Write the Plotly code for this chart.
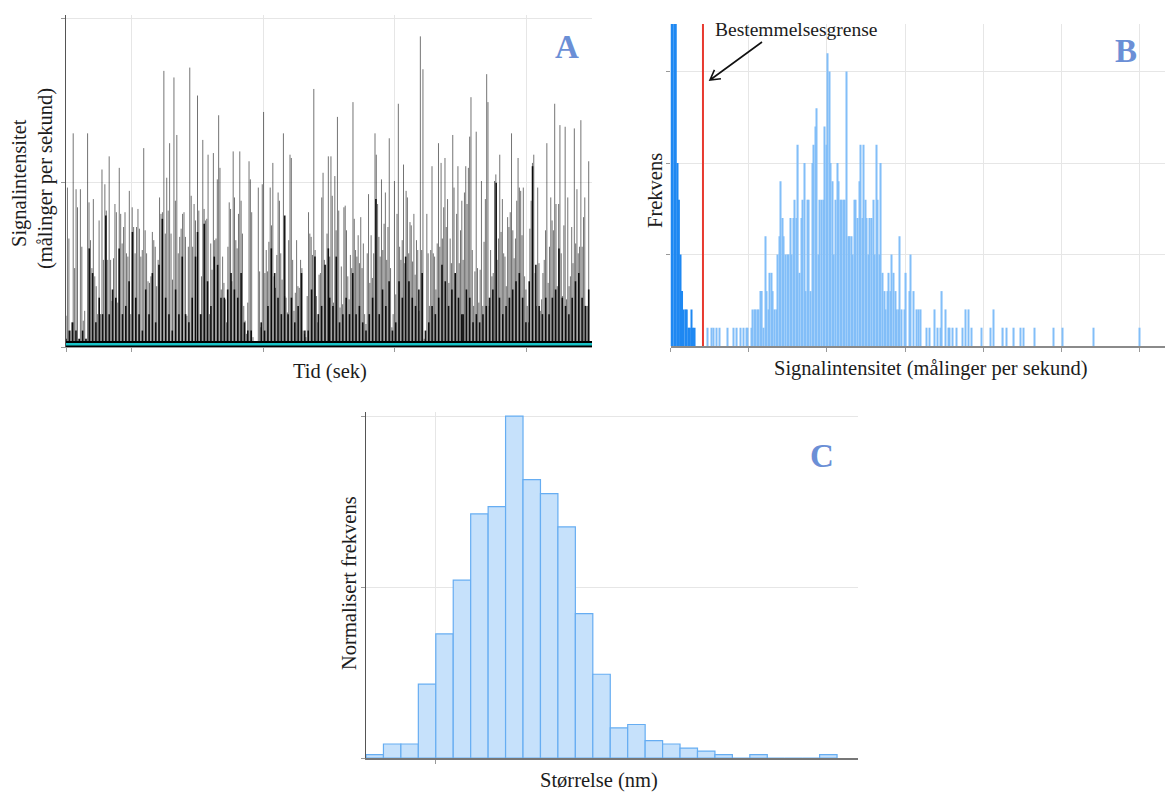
import numpy as np
import plotly.graph_objects as go

# ---------------- data ----------------
# A: single-particle time scan, spike intensities in four 20 s blocks
a_block_start = [0.0, 20.0, 40.1, 60.4]
a_block_end = [19.7, 39.9, 60.2, 79.5]
a_block1 = [0.19, 0.97, 0.66, 0.10, 0.15, 1.30, 0.48, 0.96, 0.85, 0.05,
            0.96, 0.61, 0.16, 0.22, 0.05, 1.30, 0.88, 0.65, 0.48, 0.90,
            0.43, 0.37, 0.20, 0.77, 0.20, 1.08, 0.53, 0.99, 0.83, 0.53,
            1.16, 0.53, 0.28, 0.54, 0.87, 0.82, 0.27, 1.09, 0.81, 0.63,
            0.73, 0.82, 0.57, 0.55, 0.95, 0.20, 0.85, 0.73, 0.57, 0.73,
            0.84, 0.72, 0.55, 0.59, 1.21, 0.71, 0.57, 0.40, 0.39, 0.43,
            0.70, 0.65, 0.61, 0.37, 0.53, 0.91, 0.81, 0.82, 1.68, 0.69,
            1.03, 0.83, 1.24, 0.69, 0.41, 1.64, 0.89, 1.29, 0.57, 0.67,
            0.72, 0.81, 0.82, 0.67, 0.19, 0.61, 1.70, 0.92, 0.61, 0.87, 0.77]
a_block2 = [1.53, 0.83, 0.20, 0.43, 1.26, 0.84, 0.77, 0.78, 1.17, 0.20,
            0.63, 0.47, 1.18, 0.65, 0.66, 1.02, 1.41, 1.09, 0.35, 0.55,
            0.39, 0.29, 0.15, 0.61, 0.88, 0.84, 0.40, 1.19, 0.91, 0.65,
            0.60, 0.81, 1.19, 0.89, 0.69, 0.25, 0.16, 0.08, 0.27, 1.13,
            1.02, 0.82, 0.06, 0.00, 0.00, 0.00, 0.97, 0.46, 0.12, 0.99,
            1.43, 0.45, 0.59, 0.46, 0.64, 0.97, 0.74, 1.12, 0.43, 0.36,
            0.56, 0.94, 0.89, 0.57, 0.41, 1.30, 0.31, 0.30, 0.21, 0.65,
            1.17, 1.15, 0.53, 0.22, 0.33, 0.65, 0.37, 0.36, 0.53, 0.48,
            0.10, 0.08, 0.06, 0.31, 0.82, 0.69, 0.67, 0.56, 1.57, 0.59,
            0.31, 0.15, 0.44, 0.45, 0.91, 1.06, 0.53, 0.50, 0.69, 1.16]
a_block3 = [0.55, 1.16, 0.92, 0.27, 1.04, 0.71, 1.40, 0.83, 0.24, 0.49,
            0.26, 0.85, 0.86, 0.71, 0.43, 0.29, 0.56, 0.48, 1.49, 0.78,
            0.59, 0.55, 0.68, 0.51, 0.79, 0.48, 0.63, 0.20, 0.14, 0.57,
            0.93, 0.39, 0.68, 0.42, 0.57, 1.30, 1.17, 0.87, 0.67, 0.55,
            1.02, 0.59, 0.75, 0.94, 0.53, 0.73, 1.27, 0.48, 0.12, 0.20,
            1.01, 0.32, 0.81, 1.48, 0.61, 0.53, 0.65, 1.11, 0.51, 0.95,
            0.91, 0.57, 0.76, 0.74, 0.52, 0.81, 0.44, 0.65, 0.59, 0.22,
            1.89, 0.59, 1.69, 0.05, 0.04, 0.81, 0.57, 0.25, 0.59, 1.10,
            0.57, 0.55, 0.35, 0.63, 1.24, 0.61, 1.12, 0.66, 0.85, 1.15,
            0.73, 0.90, 0.39, 0.66, 0.51, 1.29, 0.97, 0.45, 0.81, 1.10,
            0.51, 0.71, 0.89]
a_block4 = [0.53, 0.94, 1.10, 0.87, 1.09, 1.28, 1.52, 0.59, 0.25, 0.46,
            1.31, 0.48, 0.27, 0.47, 1.01, 0.25, 0.64, 0.90, 1.66, 1.49,
            0.25, 0.59, 0.43, 0.45, 1.01, 1.05, 0.53, 0.66, 1.17, 0.70,
            0.90, 0.57, 0.55, 0.37, 0.79, 0.73, 0.82, 1.30, 0.71, 0.54,
            0.66, 0.89, 1.15, 0.97, 0.95, 0.68, 0.97, 0.43, 0.35, 0.25,
            0.15, 0.72, 0.89, 1.12, 1.17, 0.45, 0.25, 0.97, 0.51, 0.22,
            0.29, 0.45, 0.53, 0.71, 1.24, 0.39, 0.61, 0.91, 0.77, 0.71,
            1.48, 0.87, 0.37, 0.87, 1.35, 0.57, 0.31, 0.74, 1.34, 0.29,
            0.91, 0.37, 0.43, 0.73, 0.51, 1.33, 0.63, 0.96, 0.57, 0.61,
            1.38, 0.61, 0.79, 0.91, 0.25, 0.25, 1.13]
# overlapping (unresolved) events: height of the dense lower mass per block
a_dense1 = [0.05, 0.10, 0.15, 0.10, 0.05, 0.10, 0.05, 0.60, 0.45, 0.15,
            0.30, 0.20, 0.80, 0.20, 0.35, 0.30, 0.60, 0.20, 0.25, 0.40,
            0.70, 0.30, 0.20, 0.10, 0.35, 0.20, 0.45, 0.15, 0.50, 0.78,
            0.30, 0.20, 0.10, 0.35, 0.20, 0.55, 0.20, 0.15, 0.30, 0.55]
a_dense2 = [0.70, 0.20, 0.75, 0.40, 0.25, 0.55, 0.50, 0.30, 0.30, 0.35,
            0.45, 0.35, 0.30, 0.45, 0.15, 0.10, 0.10, 0.00, 0.00, 0.15,
            0.10, 0.25, 0.60, 0.45, 0.30, 0.20, 0.80, 0.20, 0.30, 0.15,
            0.25, 0.45, 0.10, 0.10, 0.35, 0.55, 0.20, 0.25, 0.50, 0.60]
a_dense3 = [0.30, 0.25, 0.55, 0.15, 0.20, 0.30, 0.20, 0.45, 0.20, 0.25,
            0.15, 0.10, 0.20, 0.30, 0.90, 0.20, 0.35, 0.25, 0.40, 0.10,
            0.15, 0.40, 0.30, 0.55, 0.40, 0.30, 0.25, 0.35, 0.45, 0.10,
            0.15, 0.25, 0.20, 0.30, 0.50, 0.40, 0.25, 0.35, 0.45, 0.30, 0.20]
a_dense4 = [0.20, 0.35, 0.30, 0.15, 0.20, 0.15, 0.20, 0.25, 0.30, 0.35,
            1.00, 0.30, 0.20, 0.25, 0.30, 0.35, 0.40, 0.45, 0.30, 0.15,
            0.40, 1.10, 0.50, 0.25, 0.20, 0.30, 0.20, 0.30, 0.35, 0.60,
            0.30, 0.25, 0.20, 0.30, 0.40, 0.45, 0.30, 0.25, 0.35]
a_background = 0.036      # dense ionic background band
a_baseline = 0.016        # smoothed baseline (cyan)
a_time_range = [0, 80]
a_intensity_range = [0, 2.02]

# B: intensity histogram (counts per bin), bin width 0.02
b_bin = 0.02
b_dissolved_x = [0.01, 0.03, 0.05, 0.07, 0.09, 0.11, 0.13, 0.15, 0.17,
                 0.19, 0.21, 0.23, 0.25, 0.27, 0.29, 0.31]
b_dissolved_n = [140, 95, 60, 32, 10, 8, 5, 3, 2, 2, 2, 1, 1, 2, 1, 1]
b_low_x = [0.47, 0.53, 0.55, 0.59, 0.63, 0.73, 0.81, 0.85]
b_low_n = [1, 1, 1, 1, 1, 1, 1, 1]
b_peak_start = 0.89
b_peak_n = [1, 0, 1, 0, 1, 1, 0, 1, 2, 2, 2, 2, 2, 3, 3, 1, 6, 3, 2, 4,
            4, 3, 2, 2, 5, 6, 9, 7, 6, 5, 5, 5, 7, 5, 7, 8, 7, 11, 4, 7,
            8, 10, 3, 8, 8, 3, 10, 11, 12, 13, 5, 8, 8, 8, 12, 11, 16, 15, 10, 9,
            5, 8, 10, 9, 8, 8, 8, 8, 15, 6, 6, 6, 5, 8, 8, 7, 9, 11, 7, 11,
            8, 7, 5, 7, 7, 8, 5, 11, 8, 5, 10, 4, 3, 2, 3, 4, 3, 5, 4, 3,
            2, 2, 6]
b_tail_x = [2.95, 2.99, 3.01, 3.05, 3.07, 3.11, 3.15, 3.17, 3.19, 3.27,
            3.31, 3.37, 3.41, 3.45, 3.47, 3.51, 3.55, 3.57, 3.61, 3.65,
            3.73, 3.77, 3.81, 3.85, 3.97, 4.09, 4.13, 4.25, 4.29, 4.39,
            4.47, 4.51, 4.65, 4.89, 5.01, 5.41, 5.99]
b_tail_n = [2, 2, 4, 3, 5, 3, 2, 2, 2, 1,
            1, 2, 1, 1, 3, 2, 1, 1, 1, 1,
            1, 2, 2, 1, 1, 1, 2, 1, 1, 1,
            1, 1, 1, 1, 1, 1, 1]
b_limit = 0.415           # limit of quantification
b_x_range = [0, 6.32]
b_y_range = [0, 17.6]

# C: particle size distribution, normalised
c_start = 10
c_width = 5
c_freq = [0.010, 0.041, 0.041, 0.216, 0.363, 0.520, 0.714, 0.735, 1.000, 0.814,
          0.773, 0.676, 0.422, 0.245, 0.088, 0.098, 0.051, 0.041, 0.029, 0.020,
          0.010, 0.0, 0.010, 0.0, 0.0, 0.0, 0.010]
c_x_range = [10, 151]
c_y_range = [0, 1.012]

# ---------------- layout helpers ----------------
W, H = 1165, 792
SERIF = "Liberation Serif, Times New Roman, serif"
TXT = "#1c1c1c"
LETTER = "#6b8fd6"
GRID = "#e6e6e6"
TITLE_SIZE = 20.5


def dom_x(a, b):
    return [a / W, b / W]


def dom_y(top, bottom):
    return [1 - bottom / H, 1 - top / H]


def px(x):
    return x / W


def py(y):
    return 1 - y / H


def spikes(blocks):
    xs, ys = [], []
    for s, e, blk in zip(a_block_start, a_block_end, blocks):
        t = np.linspace(s, e, len(blk))
        for ti, v in zip(t, blk):
            xs += [ti, ti, None]
            ys += [0, v, None]
    return xs, ys


fig = go.Figure()

# ---------------- panel A ----------------
sx, sy = spikes([a_block1, a_block2, a_block3, a_block4])
fig.add_trace(go.Scatter(x=sx, y=sy, mode="lines", xaxis="x", yaxis="y",
                         line=dict(color="rgba(0,0,0,0.55)", width=1),
                         hoverinfo="skip", showlegend=False))
dx, dy = spikes([a_dense1, a_dense2, a_dense3, a_dense4])
fig.add_trace(go.Scatter(x=dx, y=dy, mode="lines", xaxis="x", yaxis="y",
                         line=dict(color="rgba(0,0,0,0.9)", width=1.6),
                         hoverinfo="skip", showlegend=False))
fig.add_trace(go.Scatter(x=a_time_range, y=[a_background, a_background], mode="lines",
                         fill="tozeroy", fillcolor="#000000", line=dict(color="#000000", width=0),
                         xaxis="x", yaxis="y", hoverinfo="skip", showlegend=False))
fig.add_trace(go.Scatter(x=a_time_range, y=[a_baseline, a_baseline], mode="lines",
                         line=dict(color="#19c4c8", width=2.5),
                         xaxis="x", yaxis="y", hoverinfo="skip", showlegend=False))

# ---------------- panel B ----------------
fig.add_trace(go.Bar(x=b_dissolved_x, y=b_dissolved_n, width=b_bin,
                     marker=dict(color="#1e88f2", line=dict(width=0)),
                     xaxis="x2", yaxis="y2", hoverinfo="skip", showlegend=False))
peak_x = [round(b_peak_start + b_bin * i, 3) for i in range(len(b_peak_n))]
part_x = b_low_x + peak_x + b_tail_x
part_n = b_low_n + b_peak_n + b_tail_n
fig.add_trace(go.Bar(x=part_x, y=part_n, width=b_bin * 0.72,
                     marker=dict(color="#82bef8", line=dict(width=0)),
                     xaxis="x2", yaxis="y2", hoverinfo="skip", showlegend=False))
fig.add_trace(go.Scatter(x=[b_limit, b_limit], y=b_y_range, mode="lines",
                         line=dict(color="#e8392f", width=2),
                         xaxis="x2", yaxis="y2", hoverinfo="skip", showlegend=False))

# ---------------- panel C ----------------
c_x = [c_start + c_width * (i + 0.5) for i in range(len(c_freq))]
fig.add_trace(go.Bar(x=c_x, y=c_freq, width=c_width,
                     marker=dict(color="#c6e1fb", line=dict(color="#66adf2", width=1.2)),
                     xaxis="x3", yaxis="y3", hoverinfo="skip", showlegend=False))

axis_common = dict(showticklabels=False, zeroline=False, gridcolor=GRID, gridwidth=1,
                   ticks="outside", ticklen=4, tickcolor="#999999")

fig.update_layout(
    width=W, height=H, autosize=False,
    margin=dict(l=0, r=0, t=0, b=0),
    paper_bgcolor="white", plot_bgcolor="white",
    barmode="overlay", showlegend=False,
    xaxis=dict(domain=dom_x(66, 592), range=a_time_range, tickvals=[0, 10, 30, 50, 70],
               showline=True, linecolor="#9a9a9a", linewidth=1, anchor="y", **axis_common),
    yaxis=dict(domain=dom_y(15, 347), range=a_intensity_range, tickvals=[0, 1, 2],
               showline=True, linecolor="#555555", linewidth=1, anchor="x", **axis_common),
    xaxis2=dict(domain=dom_x(670.5, 1165), range=b_x_range, tickvals=[0, 1, 2, 3, 4, 5, 6],
                showline=True, linecolor="#8a8a8a", linewidth=2, anchor="y2", **axis_common),
    yaxis2=dict(domain=dom_y(24, 346), range=b_y_range, tickvals=[5, 10, 15],
                showline=False, anchor="x2", **axis_common),
    xaxis3=dict(domain=dom_x(366, 858), range=c_x_range, tickvals=[30],
                showline=True, linecolor="#777777", linewidth=1.5, anchor="y3", **axis_common),
    yaxis3=dict(domain=dom_y(412, 758), range=c_y_range, tickvals=[0, 0.5, 1.0],
                showline=True, linecolor="#555555", linewidth=1, anchor="x3", **axis_common),
)


def label(text, x, y, size=TITLE_SIZE, angle=0, color=TXT, bold=False):
    fig.add_annotation(text=f"<b>{text}</b>" if bold else text, x=px(x), y=py(y),
                       xref="paper", yref="paper", showarrow=False, textangle=angle,
                       xanchor="center", yanchor="middle",
                       font=dict(family=SERIF, size=size, color=color))


# axis titles
label("Signalintensitet", 19, 183, angle=-90)
label("(målinger per sekund)", 45, 179, angle=-90)
label("Tid (sek)", 330, 371)
label("Frekvens", 655, 191, angle=-90)
label("Signalintensitet (målinger per sekund)", 931, 368)
label("Normalisert frekvens", 349, 583, angle=-90)
label("Størrelse (nm)", 599, 780)

# panel letters
label("A", 567, 47, size=33, color=LETTER, bold=True)
label("B", 1126, 51, size=33, color=LETTER, bold=True)
label("C", 822, 456, size=33, color=LETTER, bold=True)

# limit-of-quantification callout
label("Bestemmelsesgrense", 796, 29, size=19.5)
tail = (762, 42)
head = (710, 80)
d = np.array(head, float) - np.array(tail, float)
d /= np.linalg.norm(d)
back = -d
barbs = []
for ang in (np.pi / 6, -np.pi / 6):
    c, s = np.cos(ang), np.sin(ang)
    v = np.array([c * back[0] - s * back[1], s * back[0] + c * back[1]])
    barbs.append(np.array(head) + 11 * v)
path = (f"M {px(tail[0])},{py(tail[1])} L {px(head[0])},{py(head[1])} "
        f"M {px(barbs[0][0])},{py(barbs[0][1])} L {px(head[0])},{py(head[1])} "
        f"L {px(barbs[1][0])},{py(barbs[1][1])}")
fig.add_shape(type="path", path=path, xref="paper", yref="paper",
              line=dict(color="#111111", width=1.6))

fig.write_html("out.html")
